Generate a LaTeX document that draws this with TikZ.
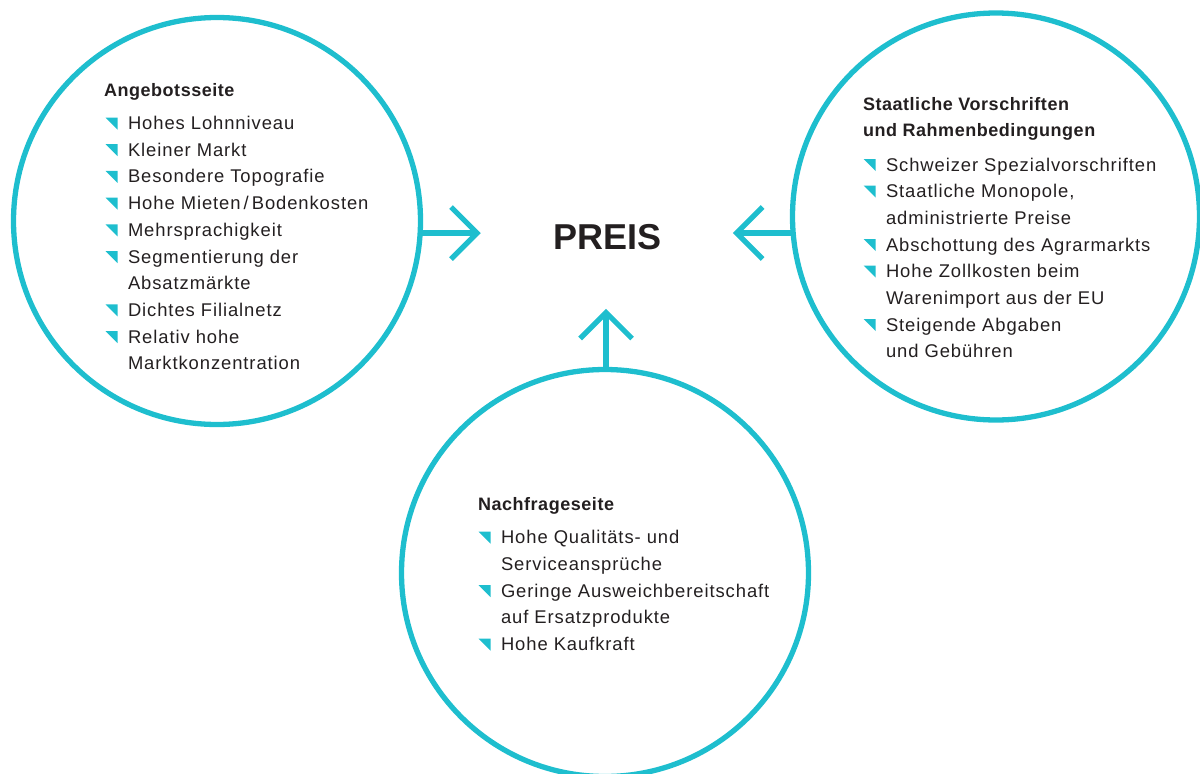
\documentclass[tikz,border=0pt]{standalone}
\usepackage{fontspec}
\setmainfont{Liberation Sans}
\newfontfamily\itemfont[LetterSpace=5]{Liberation Sans}
\newfontfamily\headfont[LetterSpace=3]{Liberation Sans}
\usetikzlibrary{calc}
\definecolor{accent}{RGB}{30,190,206}
\definecolor{ink}{RGB}{35,31,32}
\newcommand\bitem[4]{%
  \node[itemtxt] (#1) at (#2,#3) {#4};
  \fill[accent] ([shift={(-22.5,-12)}]#1.base west) -- ++(12,0) -- ++(0,12) -- cycle;
}
\newcommand\citem[4]{%
  \node[itemtxt] (#1) at (#2,#3) {#4};
}
\begin{document}
\begin{tikzpicture}[x=1pt,y=-1pt,
  ring/.style={circle, draw=accent, line width=5.3pt, minimum size=407pt, inner sep=0pt},
  itemtxt/.style={anchor=base west, inner sep=0pt, outer sep=0pt, text=ink, font=\itemfont\fontsize{18.4}{22}\selectfont},
  headtxt/.style={anchor=base west, inner sep=0pt, outer sep=0pt, text=ink, font=\headfont\bfseries\fontsize{18}{22}\selectfont},
  conn/.style={draw=accent, line width=5.3pt},
  chev/.style={draw=accent, line width=5.3pt, line join=miter, miter limit=10},
]
\useasboundingbox (0,0) rectangle (1200,774);

% circles
\node[ring] (L) at (217,221) {};
\node[ring] (R) at (996,216.5) {};
\node[ring] (B) at (605,573) {};

% centre label
\node[anchor=base, inner sep=0pt, text=ink, font=\bfseries\fontsize{36}{40}\selectfont] (P) at (607.5,249) {PREIS};

% arrows
\coordinate (tL) at (477,233);
\coordinate (tR) at (736.5,233);
\coordinate (tB) at (606,312.5);
\draw[conn] ($(tL -| L.east)+(-3,0)$) -- (tL);
\draw[chev] ([shift={(-26,-26)}]tL) -- (tL) -- ([shift={(-26,26)}]tL);
\draw[conn] ($(tR -| R.west)+(3,0)$) -- (tR);
\draw[chev] ([shift={(26,-26)}]tR) -- (tR) -- ([shift={(26,26)}]tR);
\draw[conn] ($(tB |- B.north)+(0,3)$) -- (tB);
\draw[chev] ([shift={(-26,26)}]tB) -- (tB) -- ([shift={(26,26)}]tB);

% left circle text
\node[headtxt] (Lh) at (104,96) {Angebotsseite};
\bitem{L1}{128}{129.5}{Hohes Lohnniveau}
\bitem{L2}{128}{156.2}{Kleiner Markt}
\bitem{L3}{128}{182.9}{Besondere Topografie}
\bitem{L4}{128}{209.6}{Hohe Mieten\,/\,Bodenkosten}
\bitem{L5}{128}{236.3}{Mehrsprachigkeit}
\bitem{L6}{128}{263}{Segmentierung der}
\citem{L6b}{128}{289.7}{Absatzmärkte}
\bitem{L7}{128}{316.4}{Dichtes Filialnetz}
\bitem{L8}{128}{343.1}{Relativ hohe}
\citem{L8b}{128}{369.8}{Marktkonzentration}

% right circle text
\node[headtxt] (Rh1) at (863,110) {Staatliche Vorschriften};
\node[headtxt] (Rh2) at (863,136.5) {und Rahmenbedingungen};
\bitem{R1}{886}{171}{Schweizer Spezialvorschriften}
\bitem{R2}{886}{197.5}{Staatliche Monopole,}
\citem{R2b}{886}{224}{administrierte Preise}
\bitem{R3}{886}{251}{Abschottung des Agrarmarkts}
\bitem{R4}{886}{277.5}{Hohe Zollkosten beim}
\citem{R4b}{886}{304}{Warenimport aus der EU}
\bitem{R5}{886}{331}{Steigende Abgaben}
\citem{R5b}{886}{357.5}{und Gebühren}

% bottom circle text
\node[headtxt] (Bh) at (478,510) {Nachfrageseite};
\bitem{B1}{501}{543.5}{Hohe Qualitäts- und}
\citem{B1b}{501}{570}{Serviceansprüche}
\bitem{B2}{501}{597}{Geringe Ausweichbereitschaft}
\citem{B2b}{501}{623.5}{auf Ersatzprodukte}
\bitem{B3}{501}{650.5}{Hohe Kaufkraft}
\end{tikzpicture}
\end{document}
